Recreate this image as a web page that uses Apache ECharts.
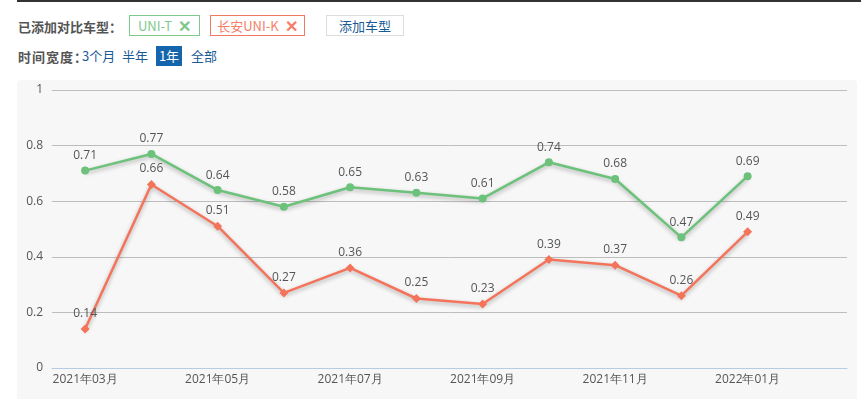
<!DOCTYPE html>
<html>
<head>
<meta charset="utf-8">
<script src="https://cdn.jsdelivr.net/npm/echarts@6/dist/echarts.min.js"></script>
<style>
  body { margin: 0; width: 861px; height: 399px; background: #fff; overflow: hidden;
         font-family: "Noto Sans CJK SC", "Open Sans", sans-serif; position: relative; }
  .topbar { position: absolute; left: 17px; top: 0; width: 844px; height: 2px; background: #333; }
  .row { position: absolute; left: 18px; font-size: 13px; color: #555; }
  .lbl { font-weight: bold; }
  .tag { position: absolute; box-sizing: border-box; height: 21px; line-height: 19px;
         font-size: 13px; text-align: center; background: #fff; }
  .t1 { left: 129px; top: 15px; width: 71px; border: 1px solid #7dcb8c; color: #7fc98e; }
  .t2 { left: 210px; top: 15px; width: 95px; border: 1px solid #f27a61; color: #f5806a; }
  .add { left: 326px; top: 15px; width: 78px; border: 1px solid #ddd; color: #1a5a96; }
  .x { font-size: 16px; margin-left: 6px; font-weight: bold; vertical-align: -1px; }
  .opt { position: absolute; top: 46px; height: 20px; line-height: 20px; font-size: 13px; color: #1a5a96; }
  .on { background: #1565ad; color: #fff; text-align: center; width: 26px; }
  #panel { position: absolute; left: 17px; top: 80px; width: 840px; height: 322px;
           background: #f7f7f7; border-radius: 4px; }
  #chart { width: 840px; height: 322px; }
</style>
</head>
<body>
<div class="topbar"></div>
<div class="row lbl" style="top:17px;">已添加对比车型：</div>
<div class="tag t1">UNI-T<span class="x">✕</span></div>
<div class="tag t2">长安UNI-K<span class="x">✕</span></div>
<div class="tag add">添加车型</div>
<div class="row lbl" style="top:47px; letter-spacing:1px;">时间宽度：</div>
<div class="opt" style="left:82px;">3个月</div>
<div class="opt" style="left:122px;">半年</div>
<div class="opt on" style="left:156px;">1年</div>
<div class="opt" style="left:191px;">全部</div>
<div id="panel"><div id="chart"></div></div>
<script>
var months = ['2021年03月', '2021年04月', '2021年05月', '2021年06月', '2021年07月', '2021年08月',
  '2021年09月', '2021年10月', '2021年11月', '2021年12月', '2022年01月', '2022年02月'];
var uniT = [0.71, 0.77, 0.64, 0.58, 0.65, 0.63, 0.61, 0.74, 0.68, 0.47, 0.69, null];
var uniK = [0.14, 0.66, 0.51, 0.27, 0.36, 0.25, 0.23, 0.39, 0.37, 0.26, 0.49, null];
var yTicks = [0, 0.2, 0.4, 0.6, 0.8, 1];

var chart = echarts.init(document.getElementById('chart'));

function line(name, data, color, symbol) {
  return {
    name: name,
    type: 'line',
    data: data,
    symbol: symbol,
    symbolSize: symbol === 'circle' ? 8 : 9,
    itemStyle: { color: color },
    lineStyle: { width: 2.5, color: color, shadowColor: 'rgba(0,0,0,0.3)', shadowBlur: 4, shadowOffsetY: 2 },
    label: { show: true, position: 'top', distance: 5, color: '#555', fontSize: 12,
      fontFamily: 'Open Sans' },
    animation: false
  };
}

chart.setOption({
  animation: false,
  grid: { left: 35, right: 10, top: 10, bottom: 34 },
  xAxis: {
    type: 'category',
    data: months,
    boundaryGap: true,
    axisLine: { lineStyle: { color: '#b7cbe3', width: 1 } },
    axisTick: { length: 5, lineStyle: { color: '#b7cbe3' },
      interval: function (idx) { return idx % 2 === 1; } },
    axisLabel: { interval: 1, color: '#555', fontSize: 12, margin: 6, fontFamily: 'Open Sans' }
  },
  yAxis: {
    type: 'value',
    min: yTicks[0],
    max: yTicks[yTicks.length - 1],
    interval: 0.2,
    axisLine: { show: false },
    axisTick: { show: false },
    splitLine: { lineStyle: { color: '#bdbdbd' } },
    axisLabel: { color: '#555', fontSize: 12, margin: 9, fontFamily: 'Open Sans' }
  },
  series: [
    line('UNI-T', uniT, '#6cc17b', 'circle'),
    line('长安UNI-K', uniK, '#f3735b', 'diamond')
  ]
});
</script>
</body>
</html>
